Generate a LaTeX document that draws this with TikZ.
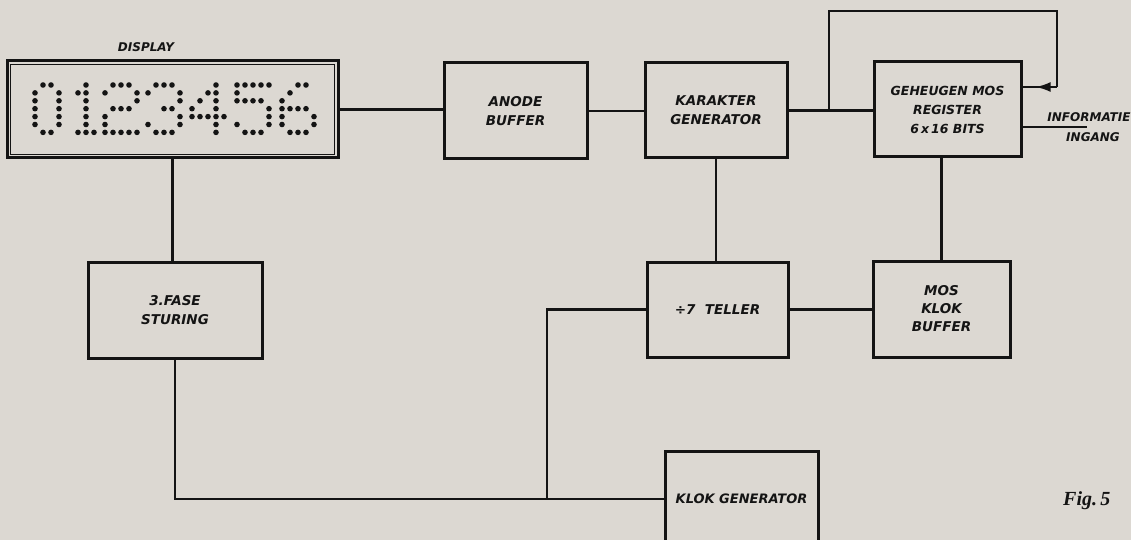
\documentclass[tikz,border=0pt]{standalone}
\usepackage{fontspec}
\usetikzlibrary{arrows.meta,decorations.markings}
\newfontfamily\labf{DejaVu Sans}
\newfontfamily\figf{Liberation Serif}
\definecolor{paper}{HTML}{DCD8D2}
\definecolor{ink}{HTML}{141414}
\newcommand\dmdigit[2]{\foreach \c/\r in {#2} {\fill[ink] (#1+\c*8, 85+\r*7.9) circle (2.8pt);}}
\begin{document}
\begin{tikzpicture}[x=1pt,y=-1pt,
  blk/.style={draw=ink, line width=3pt, rectangle, inner sep=0pt, align=center,
    font=\labf\bfseries\itshape\fontsize{13.5}{19}\selectfont, text=ink},
  wire/.style={draw=ink, line width=2.2pt},
  lbl/.style={font=\labf\bfseries\itshape\fontsize{12}{14}\selectfont, text=ink, inner sep=0pt},
  midarrow/.style={postaction={decorate}, decoration={markings,
    mark=at position 0.62 with {\arrow{Latex[length=15pt,width=10pt]}}}}]
\useasboundingbox (0,0) rectangle (1131,540);
\clip (0,0) rectangle (1131,540);
\fill[paper] (0,0) rectangle (1131,540);

% display
\node[blk, minimum width=331pt, minimum height=97pt] (disp) at (172.5,109.5) {};
\draw[ink, line width=1.8pt] ([shift={(5,5)}]disp.north west) rectangle ([shift={(-5,-5)}]disp.south east);
\node[lbl] (displbl) at (146,47) {DISPLAY};
\dmdigit{35}{1/0,2/0,0/1,3/1,0/2,3/2,0/3,3/3,0/4,3/4,0/5,3/5,1/6,2/6}
\dmdigit{78}{1/0,1/1,1/2,1/3,1/4,1/5,1/6,0/1,0/6,2/6}
\dmdigit{105}{1/0,2/0,3/0,0/1,4/1,4/2,1/3,2/3,3/3,0/4,0/5,0/6,1/6,2/6,3/6,4/6}
\dmdigit{148}{1/0,2/0,3/0,0/1,4/1,4/2,2/3,3/3,4/4,0/5,4/5,1/6,2/6,3/6}
\dmdigit{192}{3/0,2/1,3/1,1/2,3/2,0/3,3/3,0/4,1/4,2/4,3/4,4/4,3/5,3/6}
\dmdigit{237}{0/0,1/0,2/0,3/0,4/0,0/1,0/2,1/2,2/2,3/2,4/3,4/4,0/5,4/5,1/6,2/6,3/6}
\dmdigit{282}{2/0,3/0,1/1,0/2,0/3,1/3,2/3,3/3,0/4,4/4,0/5,4/5,1/6,2/6,3/6}

% blocks
\node[blk, minimum width=143pt, minimum height=96pt] (anode) at (515.5,111) {ANODE\\BUFFER};
\node[blk, minimum width=142pt, minimum height=95pt] (kar) at (716,110.5) {KARAKTER\\GENERATOR};
\node[blk, minimum width=147pt, minimum height=95pt,
  font=\labf\bfseries\itshape\fontsize{12.5}{19}\selectfont] (geh) at (947.5,109.5) {GEHEUGEN MOS\\REGISTER\\6\,x\,16 BITS};
\node[blk, minimum width=137pt, minimum height=96pt, font=\labf\bfseries\itshape\fontsize{13.5}{18}\selectfont] (mos) at (941.5,309) {MOS\\KLOK\\BUFFER};
\node[blk, minimum width=141pt, minimum height=95pt] (tel) at (717.5,309.5) {\mbox{÷}7\ \ TELLER};
\node[blk, minimum width=174pt, minimum height=96pt] (fase) at (175,310) {3.FASE\\STURING};
\node[blk, minimum width=153pt, minimum height=96pt, font=\labf\bfseries\itshape\fontsize{13}{19}\selectfont] (klok) at (741.5,499) {KLOK GENERATOR};

% connectors
\coordinate (lj) at (829,109.5);
\coordinate (lt) at (1057,11);
\coordinate (lr) at (1057,87);
\coordinate (inf) at (1087,127);
\coordinate (j) at (547,499);

\draw[wire] (disp.east) -- (disp.east -| anode.west);
\draw[wire] (anode.east) -- (anode.east -| kar.west);
\draw[wire] (kar.east) -- (kar.east -| geh.west);
\draw[wire] (lj) |- (lt) -- (lr);
\draw[wire, midarrow] (lr) -- (lr -| geh.east);
\draw[wire] (geh.east |- inf) -- (inf);
\draw[wire] (mos.north) -- (mos.north |- geh.south);
\draw[wire] (kar.south) -- (kar.south |- tel.north);
\draw[wire] (tel.east) -- (tel.east -| mos.west);
\draw[wire] (tel.west) -| (j);
\draw[wire] (disp.south) -- (disp.south |- fase.north);
\draw[wire] (fase.south) |- (klok.west);

\node[lbl, anchor=base] (infa) at (1089,122) {INFORMATIE};
\node[lbl, anchor=base] (infb) at (1093,142) {INGANG};
\node[font=\figf\bfseries\itshape\fontsize{20}{24}\selectfont, text=ink, inner sep=0pt, anchor=base west] (fig) at (1063,505) {Fig.\,5};
\end{tikzpicture}
\end{document}
